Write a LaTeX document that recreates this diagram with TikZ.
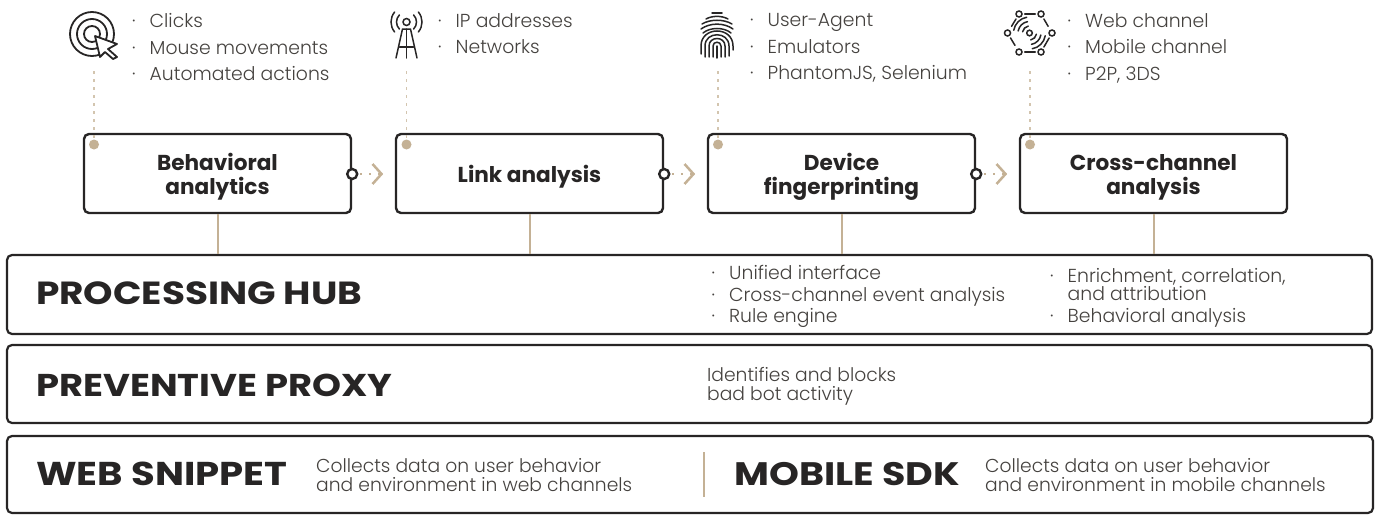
\documentclass[tikz,border=0pt]{standalone}
\usepackage{fontspec}
\setmainfont{Poppins}[UprightFont={* Light},BoldFont={* Bold}]
\newfontfamily\titlef{Poppins}[UprightFont={* Bold},FakeStretch=1.17]
\usetikzlibrary{arrows.meta,calc}
\definecolor{ink}{HTML}{272525}
\definecolor{txt}{HTML}{45423F}
\definecolor{tan}{HTML}{C4B195}
\newcommand{\bul}[1]{\makebox[17.5pt][l]{·}#1}
\newcommand{\bulc}[1]{\makebox[17.5pt][l]{}#1}
\newcommand{\tallrule}{\rule{0pt}{23pt}}
\tikzset{
  x=1pt,y=-1pt,
  boxn/.style={draw=ink,line width=2.4pt,rounded corners=5pt,fill=white,minimum width=267pt,minimum height=79pt,inner sep=0pt,align=center,font=\fontsize{21.6}{24}\selectfont\bfseries,text=ink},
  layer/.style={draw=ink,line width=2.2pt,rounded corners=5pt,fill=white,inner sep=0pt},
  head/.style={anchor=west,inner sep=0pt,font=\fontsize{#1}{36}\selectfont\titlef,text=ink},
  blist/.style={anchor=north west,inner sep=0pt,align=left,text=txt,font=\fontsize{18.8}{26.7}\selectfont},
  dlist/.style={anchor=west,inner sep=0pt,align=left,text=txt,font=\fontsize{18.8}{21.5}\selectfont},
  desc/.style={anchor=west,inner sep=0pt,align=left,text=txt,font=\fontsize{18.7}{19}\selectfont},
  tanline/.style={draw=tan,line width=2pt},
  dots/.style={draw=tan!75,line width=1.5pt,dash pattern=on 3pt off 5pt},
  tandot/.style={circle,fill=tan,minimum size=10pt,inner sep=0pt},
  ringn/.style={circle,draw=ink,line width=2.4pt,fill=white,minimum size=10pt,inner sep=0pt},
  arrowd/.style={draw=tan,line width=1.8pt,dash pattern=on 2pt off 7pt,-{Straight Barb[length=9pt,width=20pt,line width=2.5pt]}},
  ico/.style={draw=ink,line width=1.5pt,line cap=round},
  hexn/.style={circle,draw=ink,line width=1.5pt,minimum size=6pt,inner sep=0pt},
}
\begin{document}
\begin{tikzpicture}
\useasboundingbox (0,0) rectangle (1378,514);
% layers
\node[layer,minimum width=1365pt,minimum height=79pt] (hub) at (689.5,294.5) {};
\node[layer,minimum width=1365pt,minimum height=78pt] (proxy) at (689.5,384) {};
\node[layer,minimum width=1366pt,minimum height=77pt] (sdk) at (690,474.5) {};
% process boxes
\node[boxn] (b1) at (217.5,173.5) {\tallrule Behavioral\\analytics};
\node[boxn] (b2) at (529.5,173.5) {\tallrule Link analysis};
\node[boxn] (b3) at (841.5,173.5) {\tallrule Device\\fingerprinting};
\node[boxn] (b4) at (1153.5,173.5) {\tallrule Cross-channel\\analysis};
% connectors to hub
\foreach \b in {b1,b2,b3,b4} \draw[tanline] (\b.south) -- (\b.south |- hub.north);
% icon anchors, dots
\foreach \i/\x in {1/94,2/406.5,3/718,4/1030}{
  \coordinate (ic\i) at (\x,71);
  \node[tandot] (d\i) at (\x,144.5) {};
  \draw[dots] (ic\i) -- (d\i);
}
% rings and arrows
\foreach \i/\b/\n in {1/b1/b2,2/b2/b3,3/b3/b4}{
  \coordinate (t\i) at ($(\b.east)+(31,0.5)$);
  \draw[arrowd] ($(\b.east)+(8,0.5)$) -- (t\i);
  \node[ringn] (r\i) at ($(\b.east)+(0,0.5)$) {};
}
% lists
\node[blist] (l1) at (132,13) {\bul{Clicks}\\\bul{Mouse movements}\\\bul{Automated actions}};
\node[blist] (l2) at (438,13) {\bul{IP addresses}\\\bul{Networks}};
\node[blist] (l3) at (750,13) {\bul{User-Agent}\\\bul{Emulators}\\\bul{PhantomJS, Selenium}};
\node[blist] (l4) at (1067.5,13) {\bul{Web channel}\\\bul{Mobile channel}\\\bul{P2P, 3DS}};
% titles
\node[head=32] (t-hub) at (36,293) {PROCESSING HUB};
\node[head=31.5] (t-proxy) at (36,385) {PREVENTIVE PROXY};
\node[head=33] (t-web) at (36,474) {WEB SNIPPET};
\node[head=32.5] (t-mob) at (734,474) {MOBILE SDK};
\node[dlist] (h1) at (711.5,296.5) {\bul{Unified interface}\\\bul{Cross-channel event analysis}\\\bul{Rule engine}};
\node[dlist] (h2) at (1050,298) {\bul{Enrichment, correlation,}\\[-3.5pt]\bulc{and attribution}\\\bul{Behavioral analysis}};
\node[desc] (p1) at (707,386) {Identifies and blocks\\bad bot activity};
\node[desc] (w1) at (316,475) {Collects data on user behavior\\and environment in web channels};
\node[desc] (m1) at (985,475) {Collects data on user behavior\\and environment in mobile channels};
\coordinate (div1) at (703.5,452); \coordinate (div2) at (703.5,497);
\draw[tanline] (div1) -- (div2);
% icon 1: target
\draw[ico,line width=1.8pt] (92,34) circle (22);
\draw[ico,line width=1.8pt] (92,34) circle (15);
\draw[ico,line width=1.8pt] (92,34) circle (8);
\draw[ico,line width=1.8pt,fill=white,line join=round] (95,36) -- (117,44) -- (108,49) -- (117,57) -- (113,59) -- (105,52) -- (100,57) -- cycle;
% icon 2: antenna
\coordinate (ac) at (406.5,22);
\draw[ico] (ac) circle (3.5);
\draw[ico] ($(ac)+(225:10)$) arc[start angle=225,end angle=135,radius=10];
\draw[ico] ($(ac)+(-45:10)$) arc[start angle=-45,end angle=45,radius=10];
\draw[ico] ($(ac)+(220:15.5)$) arc[start angle=220,end angle=140,radius=15.5];
\draw[ico] ($(ac)+(-40:15.5)$) arc[start angle=-40,end angle=40,radius=15.5];
\draw[ico,line join=round] (396,58) -- (402.5,29) -- (410.5,29) -- (417,58);
\draw[ico] (406.5,29) -- (406.5,58);
\draw[ico] (399.5,47) -- (413.5,47);
% icon 3: fingerprint
\draw[ico] (712,13) -- (722,13);
\draw[ico] (706,19) .. controls (712,15.5) and (722,15.5) .. (728,19);
\draw[ico] (702,24) .. controls (710,19) and (724,19) .. (732,24);
\draw[ico] (701,29) .. controls (710,22.5) and (724,22.5) .. (733,29);
\draw[ico] (703,33) .. controls (710,27) and (724,27) .. (731,33);
\draw[ico] (701,54) -- (701,46) .. controls (701,26) and (733,26) .. (733,46) -- (733,50);
\draw[ico] (705,57) -- (705,46) .. controls (705,31) and (729,31) .. (729,46) -- (729,56);
\draw[ico] (709,57) -- (709,46) .. controls (709,36) and (725,36) .. (725,46) -- (725,57);
\draw[ico] (713,57) -- (713,46) .. controls (713,41) and (721,41) .. (721,46) -- (721,57);
\draw[ico] (717,46) -- (717,58);
% icon 4: network
\node[hexn] (x1) at (1019,14) {};
\node[hexn] (x2) at (1041,14) {};
\node[hexn] (x3) at (1052,33) {};
\node[hexn] (x4) at (1041,52) {};
\node[hexn] (x5) at (1019,52) {};
\node[hexn] (x6) at (1007.5,33) {};
\draw[ico,shorten >=2pt,shorten <=2pt] (x1) -- (x2);
\draw[ico,shorten >=4pt,shorten <=2pt] (x2) -- (x3);
\draw[ico,shorten >=2pt,shorten <=2pt] (x3) -- (x4);
\draw[ico,shorten >=2pt,shorten <=2pt] (x4) -- (x5);
\draw[ico,shorten >=2pt,shorten <=4pt] (x5) -- (x6);
\draw[ico,shorten >=2pt,shorten <=4pt] (x6) -- (x1);
\coordinate (nc) at (1029.5,33);
\draw[ico] (nc) circle (2.8);
\foreach \r in {7,11.5,16}{
  \draw[ico] ($(nc)+(190:\r)$) arc[start angle=190,end angle=260,radius=\r];
  \draw[ico] ($(nc)+(10:\r)$) arc[start angle=10,end angle=80,radius=\r];
}
\end{tikzpicture}
\end{document}
